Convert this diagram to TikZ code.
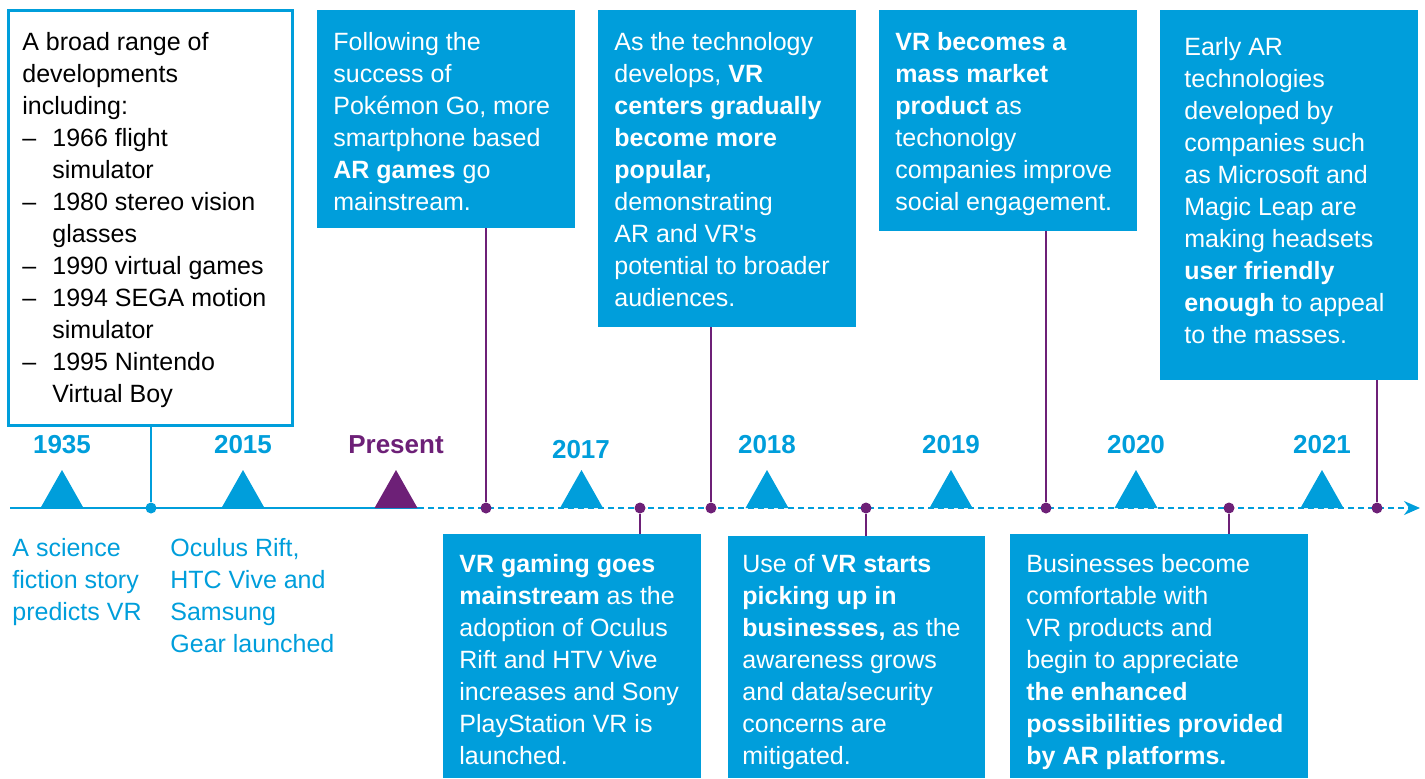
\documentclass[tikz,border=0pt]{standalone}
\usepackage{fontspec}
\setmainfont{Liberation Sans}
\usepackage{xcolor}
\usepackage{tikz}
\usetikzlibrary{arrows.meta,fit,positioning}
\definecolor{tlblue}{RGB}{0,158,219}
\definecolor{tlpurple}{RGB}{109,32,119}
\tikzset{
  bluebox/.style={fill=tlblue, inner sep=0pt},
  linebox/.style={draw=tlblue, line width=1.5pt, fill=white, inner sep=0pt},
  boxtext/.style={anchor=north west, align=left, inner sep=0pt, text=white, font=\fontsize{12.5}{16}\selectfont},
  year/.style={text=tlblue, font=\fontsize{13}{15}\selectfont\bfseries},
  pdot/.style={circle, fill=tlpurple, inner sep=0pt, minimum size=5.5pt},
  pline/.style={draw=tlpurple, line width=1pt}
}

\begin{document}
\begin{tikzpicture}[x=0.5pt, y=-0.5pt]
\useasboundingbox (0,0) rectangle (1425,778);
% boxes
\node[linebox, fit={(8,10) (292,425)}] (b1) {};
\node[bluebox, fit={(317,10) (575,228)}] (b2) {};
\node[bluebox, fit={(598,10) (856,327)}] (b3) {};
\node[bluebox, fit={(879,10) (1137,231)}] (b4) {};
\node[bluebox, fit={(1160,10) (1418,380)}] (b5) {};
\node[bluebox, fit={(443,534) (701,778)}] (b6) {};
\node[bluebox, fit={(728,536) (985,778)}] (b7) {};
\node[bluebox, fit={(1010,534) (1308,778)}] (b8) {};
\node[boxtext, text=black] (t1) at (22,32) {A broad range of\\ developments\\ including:\\
  \makebox[15pt][l]{--}1966 flight\\ \hspace*{15pt}simulator\\
  \makebox[15pt][l]{--}1980 stereo vision\\ \hspace*{15pt}glasses\\
  \makebox[15pt][l]{--}1990 virtual games\\
  \makebox[15pt][l]{--}1994 SEGA motion\\ \hspace*{15pt}simulator\\
  \makebox[15pt][l]{--}1995 Nintendo\\ \hspace*{15pt}Virtual Boy};
\node[boxtext] (t2) at (333,32) {Following the\\ success of\\ Pokémon Go, more\\ smartphone based\\ \textbf{AR games} go\\ mainstream.};
\node[boxtext] (t3) at (614,32) {As the technology\\ develops, \textbf{VR}\\ \textbf{centers gradually}\\ \textbf{become more}\\ \textbf{popular,}\\ demonstrating\\ AR and VR\textquotesingle s\\ potential to broader\\ audiences.};
\node[boxtext] (t4) at (895,32) {\textbf{VR becomes a}\\ \textbf{mass market}\\ \textbf{product} as\\ techonolgy\\ companies improve\\ social engagement.};
\node[boxtext] (t5) at (1184,37) {Early AR\\ technologies\\ developed by\\ companies such\\ as Microsoft and\\ Magic Leap are\\ making headsets\\ \textbf{user friendly}\\ \textbf{enough} to appeal\\ to the masses.};
\node[boxtext] (t6) at (459,554) {\textbf{VR gaming goes}\\ \textbf{mainstream} as the\\ adoption of Oculus\\ Rift and HTV Vive\\ increases and Sony\\ PlayStation VR is\\ launched.};
\node[boxtext] (t7) at (742,554) {Use of \textbf{VR starts}\\ \textbf{picking up in}\\ \textbf{businesses,} as the\\ awareness grows\\ and data/security\\ concerns are\\ mitigated.};
\node[boxtext] (t8) at (1026,554) {Businesses become\\ comfortable with\\ VR products and\\ begin to appreciate\\ \textbf{the enhanced}\\ \textbf{possibilities provided}\\ \textbf{by AR platforms.}};
\node[boxtext, text=tlblue] (s1935) at (12,538) {A science\\ fiction story\\ predicts VR};
\node[boxtext, text=tlblue] (s2015) at (170,538) {Oculus Rift,\\ HTC Vive and\\ Samsung\\ Gear launched};
% timeline
\coordinate (tstart) at (10,508);
\coordinate (tnow) at (418,508);
\coordinate (tend) at (1420,508);
\draw[tlblue, line width=1pt] (tstart) -- (tnow);
\draw[tlblue, line width=1pt, dash pattern=on 3pt off 2pt, -{Stealth[length=8pt,width=7pt]}] (tnow) -- (tend);
% triangles
\fill[tlblue] (40.5,508) -- (62,470) -- (83.5,508) -- cycle;
\fill[tlblue] (221.5,508) -- (243,470) -- (264.5,508) -- cycle;
\fill[tlpurple] (374.5,508) -- (396,470) -- (417.5,508) -- cycle;
\fill[tlblue] (560,508) -- (581.5,470) -- (603,508) -- cycle;
\fill[tlblue] (745.5,508) -- (767,470) -- (788.5,508) -- cycle;
\fill[tlblue] (929.5,508) -- (951,470) -- (972.5,508) -- cycle;
\fill[tlblue] (1114.5,508) -- (1136,470) -- (1157.5,508) -- cycle;
\fill[tlblue] (1300.5,508) -- (1322,470) -- (1343.5,508) -- cycle;
% years
\node[year] (y1935) at (62,445) {1935};
\node[year] (y2015) at (243,445) {2015};
\node[year, text=tlpurple] (ynow) at (396,445) {Present};
\node[year] (y2017) at (581,450) {2017};
\node[year] (y2018) at (767,445) {2018};
\node[year] (y2019) at (951,445) {2019};
\node[year] (y2020) at (1136,445) {2020};
\node[year] (y2021) at (1322,445) {2021};
% dots and connectors
\node[pdot, fill=tlblue] (d1) at (151,508) {};
\node[pdot] (d2) at (486,508) {};
\node[pdot] (d6) at (640,508) {};
\node[pdot] (d3) at (711,508) {};
\node[pdot] (d7) at (866,508) {};
\node[pdot] (d4) at (1046,508) {};
\node[pdot] (d8) at (1229,508) {};
\node[pdot] (d5) at (1377,508) {};
\draw[tlblue, line width=1pt] (d1) -- (d1 |- b1.south);
\draw[pline] (d2) -- (d2 |- b2.south);
\draw[pline] (d3) -- (d3 |- b3.south);
\draw[pline] (d4) -- (d4 |- b4.south);
\draw[pline] (d5) -- (d5 |- b5.south);
\draw[pline] (d6) -- (d6 |- b6.north);
\draw[pline] (d7) -- (d7 |- b7.north);
\draw[pline] (d8) -- (d8 |- b8.north);
\end{tikzpicture}
\end{document}
